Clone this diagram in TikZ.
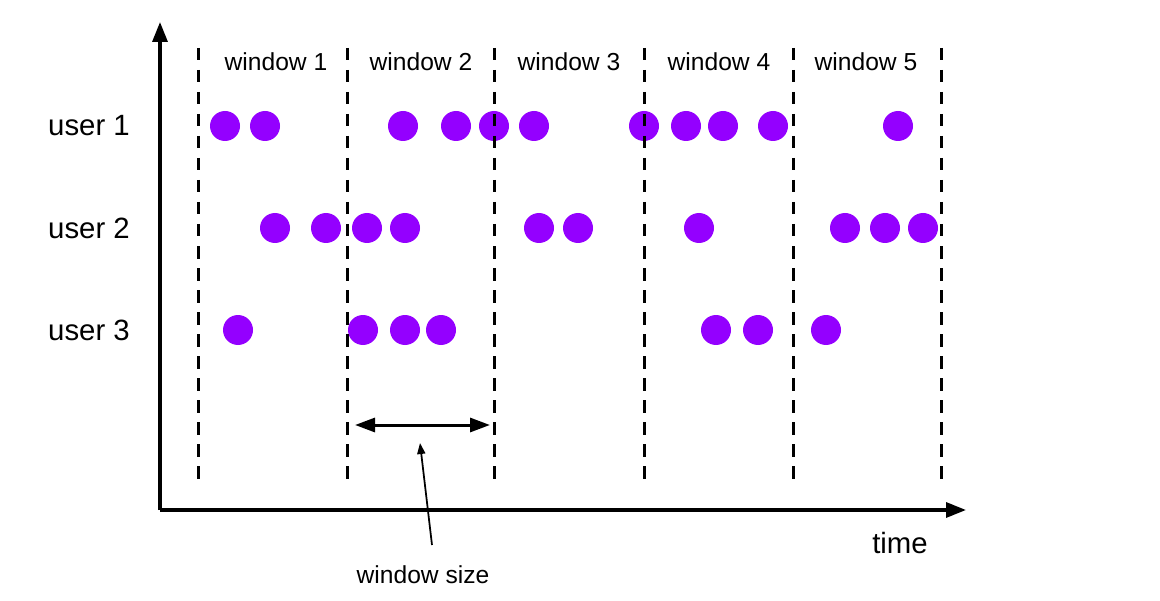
\documentclass[tikz,border=0pt]{standalone}
\usepackage{fontspec}
\setmainfont{Liberation Sans}
\usetikzlibrary{arrows.meta}
\definecolor{eventpurple}{RGB}{148,0,255}

\begin{document}
\begin{tikzpicture}[
    dot/.style = {circle, fill=eventpurple, minimum size=0.6cm, inner sep=0pt},
    border/.style = {draw, dash pattern=on 0.25cm off 0.19cm, line width=0.06cm},
    axis/.style = {draw, line width=0.065cm, -{Triangle[length=0.4cm, width=0.3cm]}},
    span/.style = {draw, line width=0.06cm, {Triangle[length=0.4cm, width=0.28cm]}-{Triangle[length=0.4cm, width=0.28cm]}},
    pointer/.style = {draw, line width=0.035cm, -{Triangle[length=0.22cm, width=0.16cm]}},
    winlabel/.style = {font=\fontsize{14}{16}\selectfont},
    rowlabel/.style = {font=\fontsize{16.7}{19}\selectfont}
]
    \useasboundingbox (0,0) rectangle (23.2,12);

    % axes
    \coordinate (origin) at (3.2, 1.8);
    \coordinate (ytip) at (3.2, 11.56);
    \coordinate (xtip) at (19.32, 1.8);
    \path[axis] (origin) -- (ytip);
    \path[axis] (origin) -- (xtip);
    \node[rowlabel] (time) at (18.0, 1.14) {time};

    % users
    \node[rowlabel] (user1) at (1.78, 9.48) {user 1};
    \node[rowlabel] (user2) at (1.78, 7.44) {user 2};
    \node[rowlabel] (user3) at (1.78, 5.4) {user 3};

    % events
    \foreach \x [count=\i] in {4.5, 5.3, 8.06, 9.12, 9.88, 10.68, 12.88, 13.72, 14.46, 15.46, 17.96}
        \node[dot] (e1-\i) at (\x, 9.48) {};
    \foreach \x [count=\i] in {5.5, 6.52, 7.34, 8.1, 10.78, 11.56, 13.98, 16.9, 17.7, 18.46}
        \node[dot] (e2-\i) at (\x, 7.44) {};
    \foreach \x [count=\i] in {4.76, 7.26, 8.1, 8.82, 14.32, 15.16, 16.52}
        \node[dot] (e3-\i) at (\x, 5.4) {};

    % window borders
    \foreach \x [count=\i] in {3.96, 6.94, 9.88, 12.88, 15.86, 18.82} {
        \coordinate (top\i) at (\x, 11.04);
        \coordinate (bot\i) at (\x, 2.3);
        \path[border] (top\i) -- (bot\i);
    }

    \node[winlabel] (w1) at (5.52, 10.76) {window 1};
    \node[winlabel] (w2) at (8.42, 10.76) {window 2};
    \node[winlabel] (w3) at (11.38, 10.76) {window 3};
    \node[winlabel] (w4) at (14.38, 10.76) {window 4};
    \node[winlabel] (w5) at (17.32, 10.76) {window 5};

    % window size
    \coordinate (span-l) at (7.1, 3.5);
    \coordinate (span-r) at (9.8, 3.5);
    \path[span] (span-l) -- (span-r);
    \node[winlabel] (wsize) at (8.46, 0.5) {window size};
    \coordinate (wsize-foot) at (8.64, 1.1);
    \coordinate (wsize-tip) at (8.4, 3.14);
    \path[pointer] (wsize-foot) -- (wsize-tip);
\end{tikzpicture}
\end{document}
